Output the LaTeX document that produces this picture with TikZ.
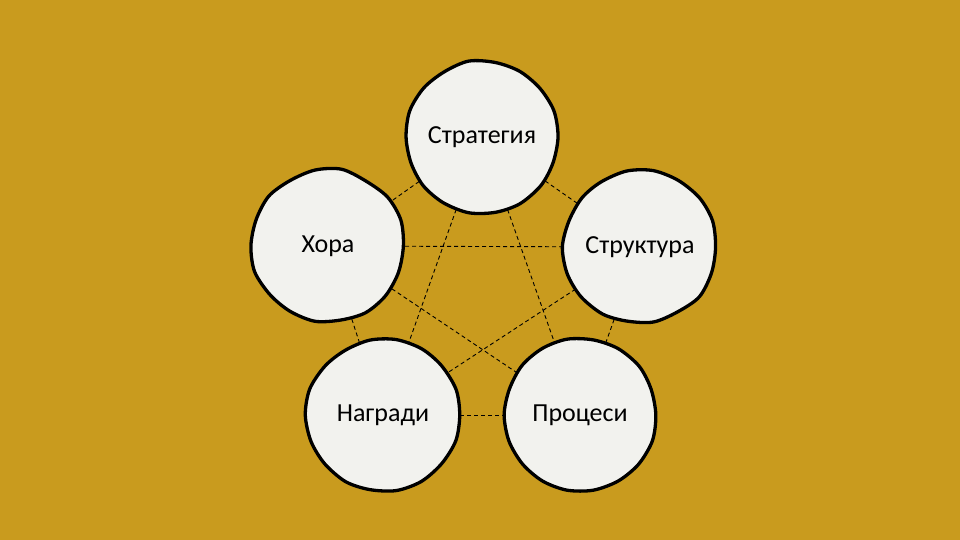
\documentclass[tikz,border=0pt]{standalone}
\usepackage{fontspec}
\setmainfont{Carlito}
\definecolor{gold}{RGB}{201,155,30}
\definecolor{paper}{RGB}{242,242,238}
\pgfdeclarelayer{back}
\pgfdeclarelayer{links}
\pgfdeclarelayer{rims}
\pgfsetlayers{back,links,rims,main}

\begin{document}
\pgfmathsetseed{11}
\begin{tikzpicture}[x=1pt, y=-1pt,
  ball/.style={circle, minimum size=152pt, inner sep=0pt,
    font=\fontsize{26}{30}\selectfont},
  rim/.style={draw=black, fill=paper, line width=3.3pt, line join=round},
  link/.style={black, line width=0.9pt, dash pattern=on 4pt off 3pt}]
\begin{pgfonlayer}{back}
\fill[gold] (0,0) rectangle (960,540);
\end{pgfonlayer}
\useasboundingbox (0,0) rectangle (960,540);
\node[ball] (strat) at (482,137) {Стратегия};
\node[ball] (hora) at (328,246) {Хора};
\node[ball] (struk) at (640,247) {Структура};
\node[ball] (nagr) at (383,415) {Награди};
\node[ball] (proc) at (580,415) {Процеси};
% hand drawn outlines
\begin{pgfonlayer}{rims}
\foreach \n in {strat,hora,struk,nagr,proc}
  \draw[rim, shift={(\n.center)}] plot[smooth cycle, samples=18, domain=0:340]
    (\x:{76.5+3.2*(rnd-0.5)});
\end{pgfonlayer}
\begin{pgfonlayer}{links}
\draw[link] (strat.center) -- (hora.center);
\draw[link] (strat.center) -- (struk.center);
\draw[link] (strat.center) -- (nagr.center);
\draw[link] (strat.center) -- (proc.center);
\draw[link] (hora.center) -- (struk.center);
\draw[link] (hora.center) -- (nagr.center);
\draw[link] (hora.center) -- (proc.center);
\draw[link] (struk.center) -- (nagr.center);
\draw[link] (struk.center) -- (proc.center);
\draw[link] (nagr.center) -- (proc.center);
\end{pgfonlayer}
\end{tikzpicture}
\end{document}
